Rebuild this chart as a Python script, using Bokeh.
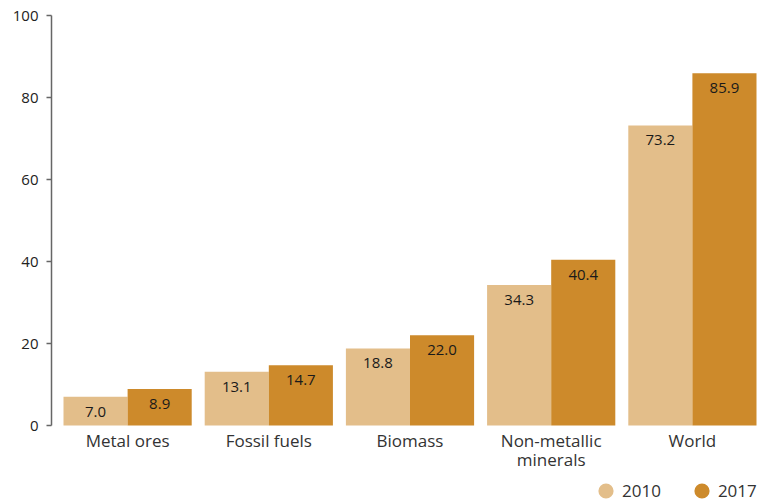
from bokeh.plotting import figure
from bokeh.models import ColumnDataSource, FactorRange, Range1d, Legend, LegendItem, FixedTicker
from bokeh.transform import dodge
from bokeh.core.properties import value
from bokeh.embed import file_html
from bokeh.resources import INLINE

categories = ["Metal ores", "Fossil fuels", "Biomass", "Non-metallic\nminerals", "World"]
values_2010 = [7.0, 13.1, 18.8, 34.3, 73.2]
values_2017 = [8.9, 14.7, 22.0, 40.4, 85.9]
series_names = ["2010", "2017"]
y_ticks = [0, 20, 40, 60, 80, 100]

color_2010 = "#E3BE8A"
color_2017 = "#CD8A2B"
FONT = "Open Sans"

src = ColumnDataSource(dict(
    cat=categories,
    v2010=values_2010,
    v2017=values_2017,
    h2010=[v / 2 for v in values_2010],
    h2017=[v / 2 for v in values_2017],
    l2010=[f"{v:.1f}" for v in values_2010],
    l2017=[f"{v:.1f}" for v in values_2017],
))

# frame extends below the zero line to hold category labels and the legend
p = figure(
    x_range=FactorRange(factors=categories, range_padding=0.039, range_padding_units="absolute"),
    y_range=Range1d(-19.02, 100),
    frame_width=717, frame_height=488,
    min_border_left=51, min_border_right=4, min_border_top=15, min_border_bottom=0,
    output_backend="svg", toolbar_location=None,
)

bw = 0.454
x10 = dodge("cat", -bw / 2, range=p.x_range)
x17 = dodge("cat", bw / 2, range=p.x_range)

# legend proxies (tiny, hidden behind the bars)
e1 = p.ellipse(x=x10, y="h2010", width=0.01, height=0.01, width_units="screen", height_units="screen",
               source=src, fill_color=color_2010, line_color=None)
e2 = p.ellipse(x=x17, y="h2017", width=0.01, height=0.01, width_units="screen", height_units="screen",
               source=src, fill_color=color_2017, line_color=None)

r1 = p.vbar(x=x10, top="v2010", width=bw, source=src, fill_color=color_2010, line_color=None)
r2 = p.vbar(x=x17, top="v2017", width=bw, source=src, fill_color=color_2017, line_color=None)

p.text(x=x10, y="v2010", text="l2010", source=src,
       text_align="center", text_baseline="middle", y_offset=15,
       text_font=value(FONT), text_font_size="15px", text_color="#1a1a1a")
p.text(x=x17, y="v2017", text="l2017", source=src,
       text_align="center", text_baseline="middle", y_offset=15,
       text_font=value(FONT), text_font_size="15px", text_color="#1a1a1a")

# axes
p.xgrid.visible = False
p.ygrid.visible = False
p.outline_line_color = None

p.xaxis.fixed_location = 0
p.xaxis.axis_line_color = None
p.xaxis.major_tick_line_color = None
p.xaxis.minor_tick_line_color = None
p.xaxis.major_tick_out = 0
p.xaxis.major_tick_in = 0
p.xaxis.major_label_standoff = 3
p.xaxis.major_label_text_font = FONT
p.xaxis.major_label_text_font_size = "17px"
p.xaxis.major_label_text_color = "#333333"
p.xaxis.major_label_text_line_height = 0.83

p.yaxis.ticker = FixedTicker(ticks=y_ticks)
p.yaxis.bounds = (0, 100)
p.yaxis.axis_line_color = "#666666"
p.yaxis.axis_line_width = 1.5
p.yaxis.major_tick_line_color = "#666666"
p.yaxis.major_tick_line_width = 1.5
p.yaxis.major_tick_in = 0
p.yaxis.major_tick_out = 5
p.yaxis.minor_tick_line_color = None
p.yaxis.major_label_standoff = 8
p.yaxis.major_label_text_font = FONT
p.yaxis.major_label_text_font_size = "15px"
p.yaxis.major_label_text_color = "#222222"

legend = Legend(
    items=[LegendItem(label=series_names[0], renderers=[e1]),
           LegendItem(label=series_names[1], renderers=[e2])],
    orientation="horizontal",
    location=(545, 1),
    glyph_width=19, glyph_height=19,
    label_standoff=7, spacing=31, padding=0, margin=0,
    background_fill_color=None, border_line_color=None,
    label_text_font=FONT, label_text_font_size="17px", label_text_color="#333333",
    label_text_baseline="middle",
)
p.add_layout(legend, "center")

open("out.html", "w").write(file_html(p, INLINE))
